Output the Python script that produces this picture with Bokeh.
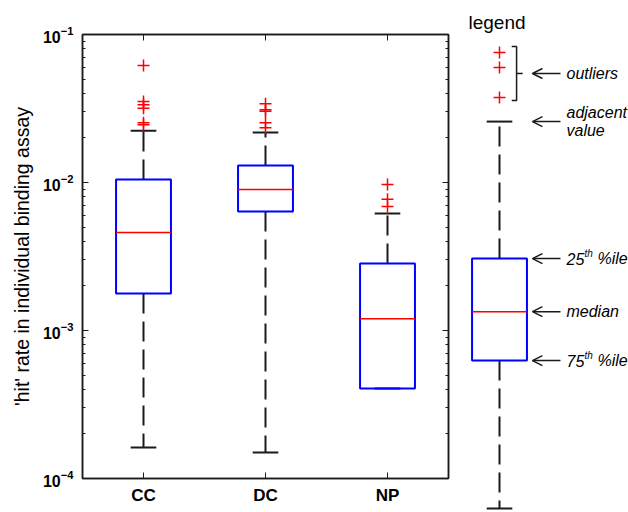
import numpy as np
from bokeh.plotting import figure
from bokeh.layouts import row
from bokeh.models import (Range1d, FixedTicker, LogAxis, LinearAxis, Label, Arrow,
                          OpenHead, CustomJSTickFormatter)
from bokeh.embed import file_html
from bokeh.resources import INLINE

# ---------------- data ----------------
cats = ["CC", "DC", "NP"]
q25 = [0.00178, 0.00637, 0.000405]
median = [0.00459, 0.00897, 0.00120]
q75 = [0.01047, 0.01303, 0.00284]
lower_adj = [1.62e-4, 1.50e-4, 0.000405]
upper_adj = [0.0224, 0.0218, 0.00618]
outliers_cc = [0.0618, 0.0353, 0.0335, 0.0318, 0.0253, 0.0246]
outliers_dc = [0.0340, 0.0310, 0.0303, 0.0253, 0.0234]
outliers_np = [0.00969, 0.00771, 0.00689]

y_major = [1e-4, 1e-3, 1e-2, 1e-1]
y_minor = [k * 10.0 ** e for e in (-4, -3, -2) for k in range(2, 10)]

# schematic legend values (same scale as the main plot)
leg_outliers = [0.0755, 0.0599, 0.0375]
leg_upper = 0.0258
leg_q75 = 0.00306
leg_median = 0.00134
leg_q25 = 0.000626
leg_lower = 0.0000627

FONT = "Liberation Sans"
AX = "#1a1a1a"
BOXW = 0.45
CAPW = 0.21
DASH = "20 8"
H = 512

xs = list(range(1, len(cats) + 1))

# ---------------- main plot ----------------
p = figure(width=456, height=H, x_range=Range1d(0.5, len(cats) + 0.5),
           y_range=Range1d(1e-4, 1e-1), y_axis_type="log",
           output_backend="svg", toolbar_location=None,
           min_border_left=82, min_border_right=8, min_border_top=34,
           min_border_bottom=34)
p.xgrid.visible = False
p.ygrid.visible = False
p.outline_line_color = AX
p.outline_line_width = 1.5
p.background_fill_color = "white"
p.border_fill_color = "white"

yticker = FixedTicker(ticks=y_major, minor_ticks=y_minor)
xticker = FixedTicker(ticks=xs)

p.yaxis.ticker = yticker
p.yaxis.major_tick_in = 6
p.yaxis.major_tick_out = 0
p.yaxis.minor_tick_in = 3
p.yaxis.minor_tick_out = 0
p.yaxis.axis_line_color = AX
p.yaxis.axis_line_width = 1.5
p.yaxis.major_tick_line_color = AX
p.yaxis.minor_tick_line_color = AX
p.yaxis.major_label_text_font = FONT
p.yaxis.major_label_text_font_style = "bold"
p.yaxis.major_label_text_font_size = "16px"
p.yaxis.major_label_text_color = "black"
p.yaxis.major_label_standoff = 9
p.yaxis.axis_label = "'hit' rate in individual binding assay"
p.yaxis.axis_label_text_font = FONT
p.yaxis.axis_label_text_font_style = "normal"
p.yaxis.axis_label_text_font_size = "19.5px"
p.yaxis.axis_label_text_color = "black"
p.yaxis.axis_label_standoff = 7

p.xaxis.ticker = xticker
p.xaxis.major_label_overrides = {x: c for x, c in zip(xs, cats)}
p.xaxis.major_tick_in = 6
p.xaxis.major_tick_out = 0
p.xaxis.minor_tick_line_color = None
p.xaxis.axis_line_color = AX
p.xaxis.axis_line_width = 1.5
p.xaxis.major_tick_line_color = AX
p.xaxis.major_label_text_font = FONT
p.xaxis.major_label_text_font_style = "bold"
p.xaxis.major_label_text_font_size = "17px"
p.xaxis.major_label_text_color = "black"
p.xaxis.major_label_standoff = 7

blank = CustomJSTickFormatter(code="return ''")
raxis = LogAxis(ticker=yticker, formatter=blank, major_tick_in=6, major_tick_out=0,
                minor_tick_in=3, minor_tick_out=0, axis_line_color=AX,
                axis_line_width=1.5, major_tick_line_color=AX,
                minor_tick_line_color=AX, major_label_standoff=0)
p.add_layout(raxis, "right")
taxis = LinearAxis(ticker=xticker, formatter=blank, major_tick_in=6, major_tick_out=0,
                   minor_tick_line_color=None, axis_line_color=AX,
                   axis_line_width=1.5, major_tick_line_color=AX,
                   major_label_standoff=0)
p.add_layout(taxis, "above")

p.segment(x0=xs, y0=q75, x1=xs, y1=upper_adj, line_color=AX, line_width=2,
          line_dash=DASH)
p.segment(x0=xs, y0=q25, x1=xs, y1=lower_adj, line_color=AX, line_width=2,
          line_dash=DASH)
xl = [x - CAPW / 2 for x in xs]
xr = [x + CAPW / 2 for x in xs]
p.segment(x0=xl, y0=upper_adj, x1=xr, y1=upper_adj, line_color=AX, line_width=2)
p.segment(x0=xl, y0=lower_adj, x1=xr, y1=lower_adj, line_color=AX, line_width=2)
p.vbar(x=xs, width=BOXW, bottom=q25, top=q75, fill_color=None,
       line_color="#0000ff", line_width=2)
p.segment(x0=[x - BOXW / 2 for x in xs], y0=median, x1=[x + BOXW / 2 for x in xs],
          y1=median, line_color="#ff0000", line_width=1.5)
ox, oy = [], []
for x, outs in zip(xs, [outliers_cc, outliers_dc, outliers_np]):
    ox += [x] * len(outs)
    oy += outs
p.scatter(ox, oy, marker="cross", size=12, line_color="#ff0000", line_width=1.5)

# ---------------- legend panel ----------------
lg = figure(width=172, height=H, x_range=Range1d(-0.3525, 1.0574),
            y_range=Range1d(1e-4, 1e-1), y_axis_type="log",
            x_axis_location=None, y_axis_location=None,
            output_backend="svg", toolbar_location=None,
            min_border_left=0, min_border_right=0, min_border_top=34,
            min_border_bottom=34, title="legend")
lg.title.text_font = FONT
lg.title.text_font_size = "19px"
lg.title.text_font_style = "normal"
lg.title.text_color = "black"
lg.title.align = "left"
lg.title.offset = 12
lg.title.standoff = 4
lg.grid.visible = False
lg.outline_line_color = None
lg.background_fill_color = "white"
lg.border_fill_color = "white"

rs = []
rs.append(lg.segment(x0=[0], y0=[leg_q75], x1=[0], y1=[leg_upper], line_color=AX,
                     line_width=2, line_dash=DASH))
rs.append(lg.segment(x0=[0], y0=[leg_q25], x1=[0], y1=[leg_lower], line_color=AX,
                     line_width=2, line_dash=DASH))
rs.append(lg.segment(x0=[-CAPW / 2] * 2, y0=[leg_upper, leg_lower],
                     x1=[CAPW / 2] * 2, y1=[leg_upper, leg_lower],
                     line_color=AX, line_width=2))
rs.append(lg.vbar(x=[0], width=BOXW, bottom=[leg_q25], top=[leg_q75],
                  fill_color=None, line_color="#0000ff", line_width=2))
rs.append(lg.segment(x0=[-BOXW / 2], y0=[leg_median], x1=[BOXW / 2],
                     y1=[leg_median], line_color="#ff0000", line_width=1.5))
rs.append(lg.scatter([0] * len(leg_outliers), leg_outliers, marker="cross",
                     size=12, line_color="#ff0000", line_width=1.5))

b_top = max(leg_outliers) * 1.1
b_bot = min(leg_outliers) * 0.955
b_mid = (b_top * b_bot) ** 0.5
bx = 0.14
rs.append(lg.line(x=[bx - 0.04, bx, bx, bx - 0.04], y=[b_top, b_top, b_bot, b_bot],
                  line_color=AX, line_width=1.5))
rs.append(lg.segment(x0=[bx], y0=[b_mid], x1=[bx + 0.05], y1=[b_mid],
                     line_color=AX, line_width=1.5))
for r in rs:
    r.level = "overlay"

TX = 0.549
for yv in [b_mid, leg_upper, leg_q75, leg_median, leg_q25]:
    lg.add_layout(Arrow(end=OpenHead(size=10, line_width=1.5, line_color=AX),
                        x_start=0.5, y_start=yv, x_end=0.27, y_end=yv,
                        line_width=1.5, line_color=AX))


def lab(text, y, xoff=0, yoff=0, size="16px"):
    lg.add_layout(Label(x=TX, y=y, x_offset=xoff, y_offset=yoff, text=text,
                        text_font=FONT, text_font_style="italic",
                        text_font_size=size, text_color="black",
                        text_baseline="middle", text_align="left"))


lab("outliers", b_mid)
lab("adjacent", leg_upper, yoff=9)
lab("value", leg_upper, yoff=-9)
lab("25", leg_q75)
lab("th", leg_q75, xoff=18, yoff=5, size="10px")
lab("%ile", leg_q75, xoff=31)
lab("median", leg_median)
lab("75", leg_q25)
lab("th", leg_q25, xoff=18, yoff=5, size="10px")
lab("%ile", leg_q25, xoff=31)

layout = row(p, lg)
open("out.html", "w").write(file_html(layout, INLINE))
